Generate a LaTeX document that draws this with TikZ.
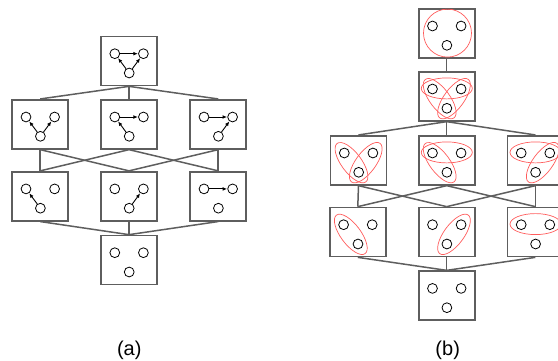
\documentclass[tikz,border=0pt]{standalone}
\usepackage{fontspec}
\setmainfont{Liberation Sans}
\usetikzlibrary{calc,arrows.meta,shapes.geometric}
\definecolor{boxgray}{HTML}{5E5E5E}
\definecolor{ellred}{HTML}{FF5C5C}
\tikzset{
  box/.style={draw=boxgray, line width=1.7pt, minimum width=56pt, minimum height=49pt, inner sep=0pt},
  conn/.style={draw=boxgray, line width=1.5pt},
  vtx/.style={circle, draw=black, line width=0.8pt, minimum size=9.8pt, inner sep=0pt},
  arr/.style={draw=black, line width=0.9pt, -{Latex[length=4.5pt,width=3.8pt]}, shorten >=0.2pt},
  ell/.style={ellipse, draw=ellred, line width=0.7pt, inner sep=0pt},
  lbl/.style={font=\fontsize{20}{24}\selectfont, inner sep=0pt}
}
\newcommand\mktrio[1]{%
  \node[vtx] (#1l) at ($(#1)+(-14.2,-7.3)$) {};
  \node[vtx] (#1r) at ($(#1)+(14.4,-7.3)$) {};
  \node[vtx] (#1b) at ($(#1)+(0.2,12)$) {};}
\newcommand\ellLB[1]{\node[ell, rotate=-53.3, minimum width=48pt, minimum height=20pt] (#1eLB) at ($(#1l)!0.5!(#1b)$) {};}
\newcommand\ellRB[1]{\node[ell, rotate=53.6, minimum width=48pt, minimum height=20pt] (#1eRB) at ($(#1r)!0.5!(#1b)$) {};}
\newcommand\ellLR[1]{\node[ell, minimum width=51pt, minimum height=21pt] (#1eLR) at ($(#1l)!0.5!(#1r)+(0,-0.6)$) {};}
\begin{document}
\begin{tikzpicture}[x=1pt,y=-1pt]
\useasboundingbox (0,0) rectangle (558,360);
% ---------- (a) ----------
\node[box] (a1)  at (129,61) {};
\node[box] (a2L) at (40.2,124.3) {};
\node[box] (a2M) at (129,124.3) {};
\node[box] (a2R) at (218.2,124.3) {};
\node[box] (a3L) at (40.2,196.2) {};
\node[box] (a3M) at (129,196.2) {};
\node[box] (a3R) at (218.2,196.2) {};
\node[box] (a4)  at (129,260) {};
\foreach \t in {a2L,a2M,a2R} \draw[conn] (a1.south) -- (\t.north);
\draw[conn] (a2L.south) -- (a3L.north);
\draw[conn] (a2L.south) -- (a3M.north);
\draw[conn] (a2M.south) -- (a3L.north);
\draw[conn] (a2M.south) -- (a3R.north);
\draw[conn] (a2R.south) -- (a3M.north);
\draw[conn] (a2R.south) -- (a3R.north);
\foreach \s in {a3L,a3M,a3R} \draw[conn] (\s.south) -- (a4.north);
\mktrio{a1}\mktrio{a2L}\mktrio{a2M}\mktrio{a2R}\mktrio{a3L}\mktrio{a3M}\mktrio{a3R}\mktrio{a4}
\draw[arr] (a1l) -- (a1r);
\draw[arr] (a1b) -- (a1l);
\draw[arr] (a1b) -- (a1r);
\draw[arr] (a2Lb) -- (a2Ll);
\draw[arr] (a2Lb) -- (a2Lr);
\draw[arr] (a2Ml) -- (a2Mr);
\draw[arr] (a2Mb) -- (a2Ml);
\draw[arr] (a2Rl) -- (a2Rr);
\draw[arr] (a2Rb) -- (a2Rr);
\draw[arr] (a3Lb) -- (a3Ll);
\draw[arr] (a3Mb) -- (a3Mr);
\draw[arr] (a3Rl) -- (a3Rr);
\node[lbl] (la) at (129.3,350) {(a)};
% ---------- (b) ----------
\node[box] (b1)  at (446.7,33.3) {};
\node[box] (b2)  at (446.7,96.3) {};
\node[box] (b3L) at (358.5,160.3) {};
\node[box] (b3M) at (446.7,160.3) {};
\node[box] (b3R) at (535.4,160.3) {};
\node[box] (b4L) at (357.8,232) {};
\node[box] (b4M) at (446.7,232) {};
\node[box] (b4R) at (535.4,232) {};
\node[box] (b5)  at (446.7,295.7) {};
\draw[conn] (b1.south) -- (b2.north);
\foreach \t in {b3L,b3M,b3R} \draw[conn] (b2.south) -- (\t.north);
\draw[conn] (b3L.south) -- (b4L.north);
\draw[conn] (b3L.south) -- (b4M.north);
\draw[conn] (b3M.south) -- (b4L.north);
\draw[conn] (b3M.south) -- (b4R.north);
\draw[conn] (b3R.south) -- (b4M.north);
\draw[conn] (b3R.south) -- (b4R.north);
\foreach \s in {b4L,b4M,b4R} \draw[conn] (\s.south) -- (b5.north);
\mktrio{b1}\mktrio{b2}\mktrio{b3L}\mktrio{b3M}\mktrio{b3R}\mktrio{b4L}\mktrio{b4M}\mktrio{b4R}\mktrio{b5}
\node[circle, draw=ellred, line width=0.7pt, minimum size=48pt, inner sep=0pt] (b1c) at ($(b1)+(0.8,-0.2)$) {};
\ellLR{b2}\ellLB{b2}\ellRB{b2}
\ellLB{b3L}\ellRB{b3L}
\ellLR{b3M}\ellLB{b3M}
\ellLR{b3R}\ellRB{b3R}
\ellLB{b4L}
\ellRB{b4M}
\ellLR{b4R}
\node[lbl] (lb) at (447.7,350) {(b)};
\end{tikzpicture}
\end{document}
